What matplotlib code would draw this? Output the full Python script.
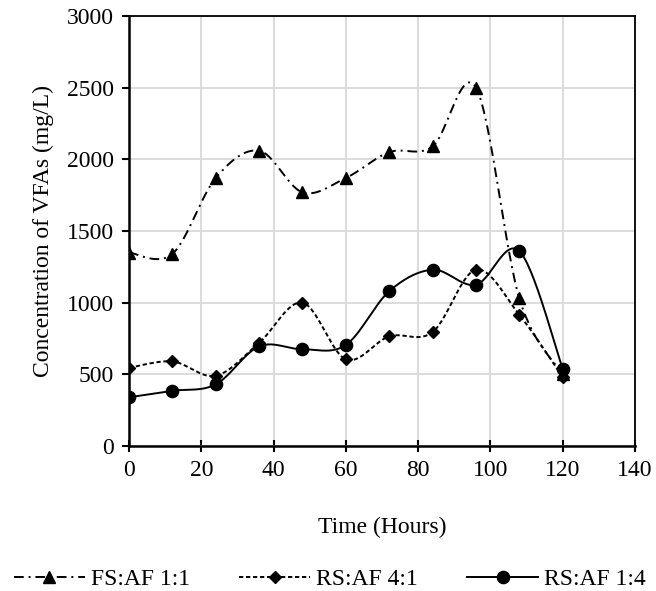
import numpy as np
import matplotlib
matplotlib.use("Agg")
import matplotlib.pyplot as plt

plt.rcParams['font.family'] = ['Liberation Serif', 'DejaVu Serif']

time_h = [0, 12, 24, 36, 48, 60, 72, 84, 96, 108, 120]
fs_af_11 = [1350, 1340, 1870, 2060, 1770, 1870, 2050, 2090, 2500, 1030, 500]
rs_af_41 = [545, 590, 490, 720, 1000, 605, 765, 795, 1230, 915, 480]
rs_af_14 = [340, 385, 430, 695, 675, 705, 1080, 1230, 1125, 1360, 540]
labels = ["FS:AF 1:1", "RS:AF 4:1", "RS:AF 1:4"]
x_ticks = [0, 20, 40, 60, 80, 100, 120, 140]
y_ticks = [0, 500, 1000, 1500, 2000, 2500, 3000]


def smooth(x, y, n=30):
    """Excel-style smoothed line (Catmull-Rom Bezier) through data points."""
    x = np.asarray(x, float)
    y = np.asarray(y, float)
    P = np.column_stack([x, y])
    Pe = np.vstack([P[0], P, P[-1]])
    out = []
    t = np.linspace(0, 1, n)[:, None]
    for i in range(len(P) - 1):
        p0, p1, p2, p3 = Pe[i], Pe[i + 1], Pe[i + 2], Pe[i + 3]
        c1 = p1 + (p2 - p0) / 6.0
        c2 = p2 - (p3 - p1) / 6.0
        seg = ((1 - t) ** 3) * p1 + 3 * ((1 - t) ** 2) * t * c1 + 3 * (1 - t) * t ** 2 * c2 + t ** 3 * p2
        if i > 0:
            seg = seg[1:]
        out.append(seg)
    out = np.vstack(out)
    return out[:, 0], out[:, 1]


fig = plt.figure(figsize=(6.56, 5.91), dpi=100)
ax = fig.add_axes([129 / 656, 1 - 446 / 591, (635 - 129) / 656, (446 - 16) / 591])

styles = [
    dict(ls=(0, (5, 2.5, 1, 2.5)), marker='^', ms=9),
    dict(ls=(0, (2.2, 1.4)), marker='D', ms=6.5),
    dict(ls='-', marker='o', ms=8.8),
]
series = [fs_af_11, rs_af_41, rs_af_14]
handles = []
for yv, st, lab in zip(series, styles, labels):
    sx, sy = smooth(time_h, yv)
    ax.plot(sx, sy, color='black', lw=1.4, ls=st['ls'], zorder=3)
    ax.plot(time_h, yv, ls='none', marker=st['marker'], ms=st['ms'], color='black', zorder=4)
    h, = ax.plot([], [], color='black', lw=1.4, ls=st['ls'], marker=st['marker'], ms=st['ms'])
    handles.append(h)

ax.set_xlim(0, 140)
ax.set_ylim(0, 3000)
ax.set_xticks(x_ticks)
ax.set_yticks(y_ticks)
ax.grid(True, color='#d9d9d9', lw=1.3, zorder=0)
ax.set_axisbelow(True)
for s in ax.spines.values():
    s.set_color('black')
    s.set_linewidth(1.3)
ax.spines['left'].set_linewidth(1.8)
ax.spines['bottom'].set_linewidth(1.8)
ax.tick_params(labelsize=17, colors='black')
ax.tick_params(axis='x', direction='inout', length=8.5, width=1.5, pad=6)
ax.tick_params(axis='y', direction='out', length=5, width=1.5, pad=6)
ax.set_xlabel("Time (Hours)", fontsize=17, labelpad=26)
ax.set_ylabel("Concentration of VFAs (mg/L)", fontsize=17, labelpad=9)

fig.legend(handles, labels, loc='lower center', bbox_to_anchor=(0.503, -0.035), ncol=3,
           frameon=False, fontsize=17, handlelength=3.0, handletextpad=0.25,
           columnspacing=2.1)

fig.savefig("out.png", dpi=100)
